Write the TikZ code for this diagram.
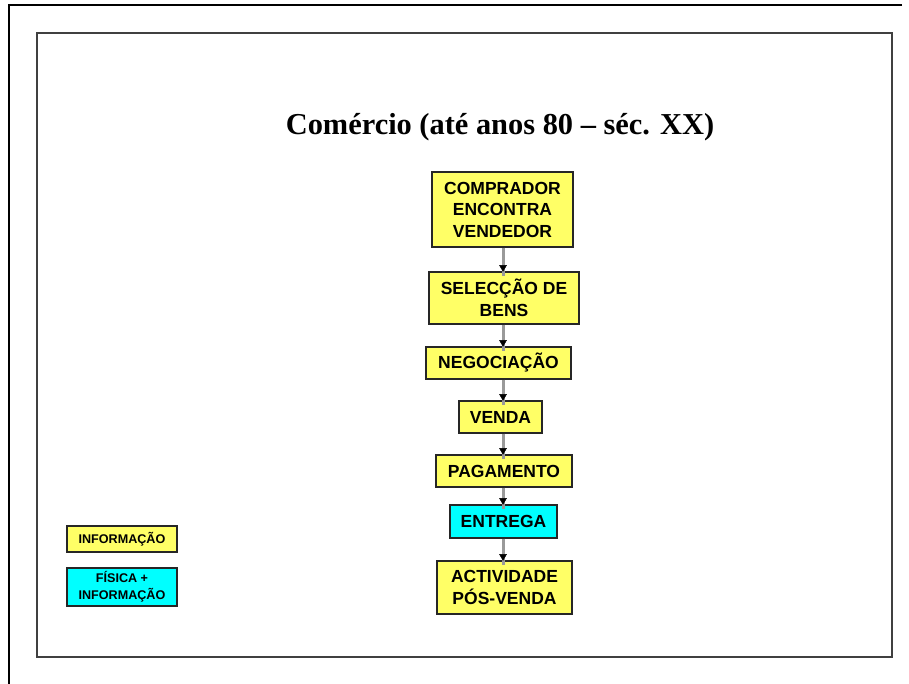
\documentclass[tikz,border=0pt]{standalone}
\usepackage{fontspec}
\setmainfont{Liberation Serif}
\newfontfamily\arialfont{Liberation Sans}
\usetikzlibrary{arrows.meta}
\definecolor{infoyellow}{HTML}{FFFF66}
\definecolor{fisicacyan}{HTML}{00FFFF}
\definecolor{framegray}{HTML}{404040}
\definecolor{linkgray}{HTML}{9A9A9A}
\tikzset{
  stepbox/.style={draw=black!85, line width=1.3pt, fill=infoyellow, inner sep=0pt,
    align=center, text=black,
    font=\arialfont\bfseries\fontsize{17.5}{21.5}\selectfont},
  physbox/.style={stepbox, fill=fisicacyan},
  keybox/.style={draw=black!85, line width=1.3pt, fill=infoyellow, inner sep=0pt,
    align=center, minimum width=110pt, text=black,
    font=\arialfont\bfseries\fontsize{12.6}{17}\selectfont},
  flowline/.style={draw=linkgray, line width=3pt},
  flowtip/.style={draw=black, fill=black, line width=0.4pt},
}
\begin{document}
\begin{tikzpicture}[x=1pt, y=-1pt]
\useasboundingbox (0,0) rectangle (909,684);

% page rule and slide frame
\draw[black, line width=1.4pt] (902,5) -- (9,5) -- (9,684);
\draw[framegray, line width=1.6pt] (37,33) rectangle (892,657);

% title
\node[anchor=base, font=\bfseries\fontsize{30.4}{36}\selectfont] (title) at (500,135)
  {Comércio (até anos 80 – séc. XX)};

% process steps
\node[stepbox, minimum width=141pt, minimum height=75pt] (s1) at (502.5,209.5)
  {COMPRADOR\\ENCONTRA\\VENDEDOR};
\node[stepbox, minimum width=150pt, minimum height=52pt] (s2) at (504,298)
  {SELECÇÃO DE\\BENS};
\node[stepbox, minimum width=145pt, minimum height=32pt] (s3) at (498.5,363)
  {NEGOCIAÇÃO};
\node[stepbox, minimum width=83pt, minimum height=32pt] (s4) at (500.5,417)
  {VENDA};
\node[stepbox, minimum width=136pt, minimum height=32pt] (s5) at (504,471)
  {PAGAMENTO};
\node[physbox, minimum width=107pt, minimum height=33pt] (s6) at (503.5,521.5)
  {ENTREGA};
\node[stepbox, minimum width=135pt, minimum height=53pt] (s7) at (504.5,587.5)
  {ACTIVIDADE\\PÓS-VENDA};

% connectors share one vertical axis: grey shaft, small black head
\coordinate (axis) at (503,0);
\foreach \a/\b in {s1/s2, s2/s3, s3/s4, s4/s5, s5/s6, s6/s7}{
  \draw[flowline] (\a.south -| axis) -- ([yshift=-5pt]\b.north -| axis);
  \filldraw[flowtip] (\b.north -| axis) -- ++(-3.5,-6) -- ++(7,0) -- cycle;
}

% legend
\node[keybox, minimum height=26pt] (k1) at (122,539) {INFORMAÇÃO};
\node[keybox, fill=fisicacyan, minimum height=38pt] (k2) at (122,587)
  {FÍSICA +\\INFORMAÇÃO};
\end{tikzpicture}
\end{document}
